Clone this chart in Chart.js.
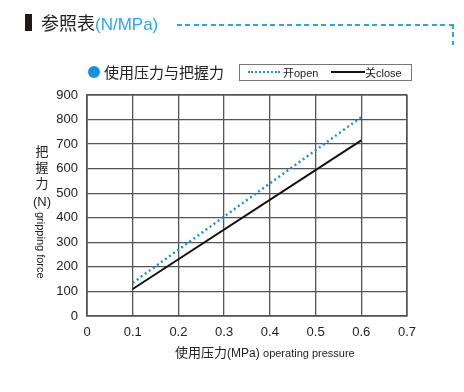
<!DOCTYPE html>
<html>
<head>
<meta charset="utf-8">
<script src="https://cdn.jsdelivr.net/npm/chart.js@4"></script>
<style>
  html, body { margin: 0; padding: 0; background: #fff; }
  #wrap { position: relative; width: 464px; height: 392px; font-family: "Liberation Sans", Arial, "Noto Sans CJK SC", sans-serif; color: #222; }
  #chart { position: absolute; left: 0; top: 0; }
  .abs { position: absolute; white-space: nowrap; }
  .cjk { font-family: "Noto Sans CJK SC", sans-serif; }
  .hdash { background: repeating-linear-gradient(to right, #29a9e1 0 5px, transparent 5px 8.5px); }
  .vdash { background: repeating-linear-gradient(to bottom, #29a9e1 0 5px, transparent 5px 8.5px); }
</style>
</head>
<body>
<div id="wrap">
  <canvas id="chart" width="464" height="392"></canvas>

  <div class="abs" style="left:25px;top:14px;width:7px;height:17px;background:#231815;"></div>
  <div class="abs cjk" style="left:41px;top:9px;font-size:18px;line-height:26px;">参照表<span style="color:#29a9e1;font-family:'Liberation Sans',Arial,sans-serif;font-size:17px;">(N/MPa)</span></div>
  <div class="abs hdash" style="left:177px;top:24px;width:277px;height:2px;"></div>
  <div class="abs vdash" style="left:452px;top:24px;width:2px;height:21px;"></div>

  <div class="abs" style="left:88px;top:66px;width:12px;height:12px;border-radius:50%;background:#1a90e0;"></div>
  <div class="abs cjk" style="left:104px;top:61px;font-size:15px;line-height:22px;">使用压力与把握力</div>

  <div class="abs" style="left:239px;top:64px;width:171px;height:15px;border:1px solid #777;"></div>
  <div class="abs" style="left:248px;top:71px;width:32px;border-top:2px dotted #1a90e0;"></div>
  <div class="abs" style="left:283px;top:64px;font-size:11px;line-height:16px;"><span class="cjk">开</span>open</div>
  <div class="abs" style="left:331px;top:71px;width:34px;border-top:2px solid #111;"></div>
  <div class="abs" style="left:365px;top:64px;font-size:11px;line-height:16px;"><span class="cjk">关</span>close</div>

  <div class="abs cjk" style="left:34px;top:143px;width:16px;text-align:center;font-size:13px;line-height:16px;">把<br>握<br>力</div>
  <div class="abs" style="left:30px;top:194px;width:24px;text-align:center;font-size:13px;line-height:16px;">(N)</div>
  <div class="abs" style="left:35px;top:212px;font-size:11px;line-height:12px;writing-mode:vertical-rl;">gripping force</div>

  <div class="abs" style="left:175px;top:343px;font-size:12px;line-height:18px;"><span class="cjk" style="font-size:13px;">使用压力</span>(MPa) <span style="font-size:11px;">operating pressure</span></div>
</div>
<script>
const xTicks = [0, 0.1, 0.2, 0.3, 0.4, 0.5, 0.6, 0.7];
const yTicks = [0, 100, 200, 300, 400, 500, 600, 700, 800, 900];
const pressure = [0.1, 0.6];
const openForce = [135, 810];
const closeForce = [110, 715];

const toPoints = (xs, ys) => xs.map((x, i) => ({ x: x, y: ys[i] }));

new Chart(document.getElementById("chart"), {
  type: "scatter",
  data: {
    datasets: [
      { label: "开open", data: toPoints(pressure, openForce), showLine: true, borderColor: "#1a90e0", borderWidth: 2.5, borderDash: [2, 3], pointRadius: 0 },
      { label: "关close", data: toPoints(pressure, closeForce), showLine: true, borderColor: "#111", borderWidth: 2, pointRadius: 0 }
    ]
  },
  options: {
    responsive: false,
    animation: false,
    layout: { padding: { left: 0, right: 57, top: 95, bottom: 0 } },
    plugins: { legend: { display: false }, tooltip: { enabled: false } },
    scales: {
      x: {
        type: "linear", min: 0, max: 0.7,
        afterBuildTicks: s => { s.ticks = xTicks.map(v => ({ value: v })); },
        afterFit: s => { s.height = 76; },
        grid: { color: "#555", lineWidth: 1.3, drawTicks: false },
        border: { color: "#555", width: 1.3 },
        ticks: { padding: 9, color: "#222", font: { family: "Liberation Sans", size: 13 }, callback: v => String(v) }
      },
      y: {
        min: 0, max: 900,
        afterBuildTicks: s => { s.ticks = yTicks.map(v => ({ value: v })); },
        afterFit: s => { s.width = 87; },
        grid: { color: "#555", lineWidth: 1.3, drawTicks: false },
        border: { color: "#555", width: 1.3 },
        ticks: { padding: 9, color: "#222", font: { family: "Liberation Sans", size: 13 } }
      }
    }
  },
  plugins: [{
    id: "frame",
    afterDraw(chart) {
      const { ctx, chartArea: a } = chart;
      ctx.save();
      ctx.strokeStyle = "#555";
      ctx.lineWidth = 1.3;
      ctx.strokeRect(a.left, a.top, a.right - a.left, a.bottom - a.top);
      ctx.restore();
    }
  }]
});
</script>
</body>
</html>
